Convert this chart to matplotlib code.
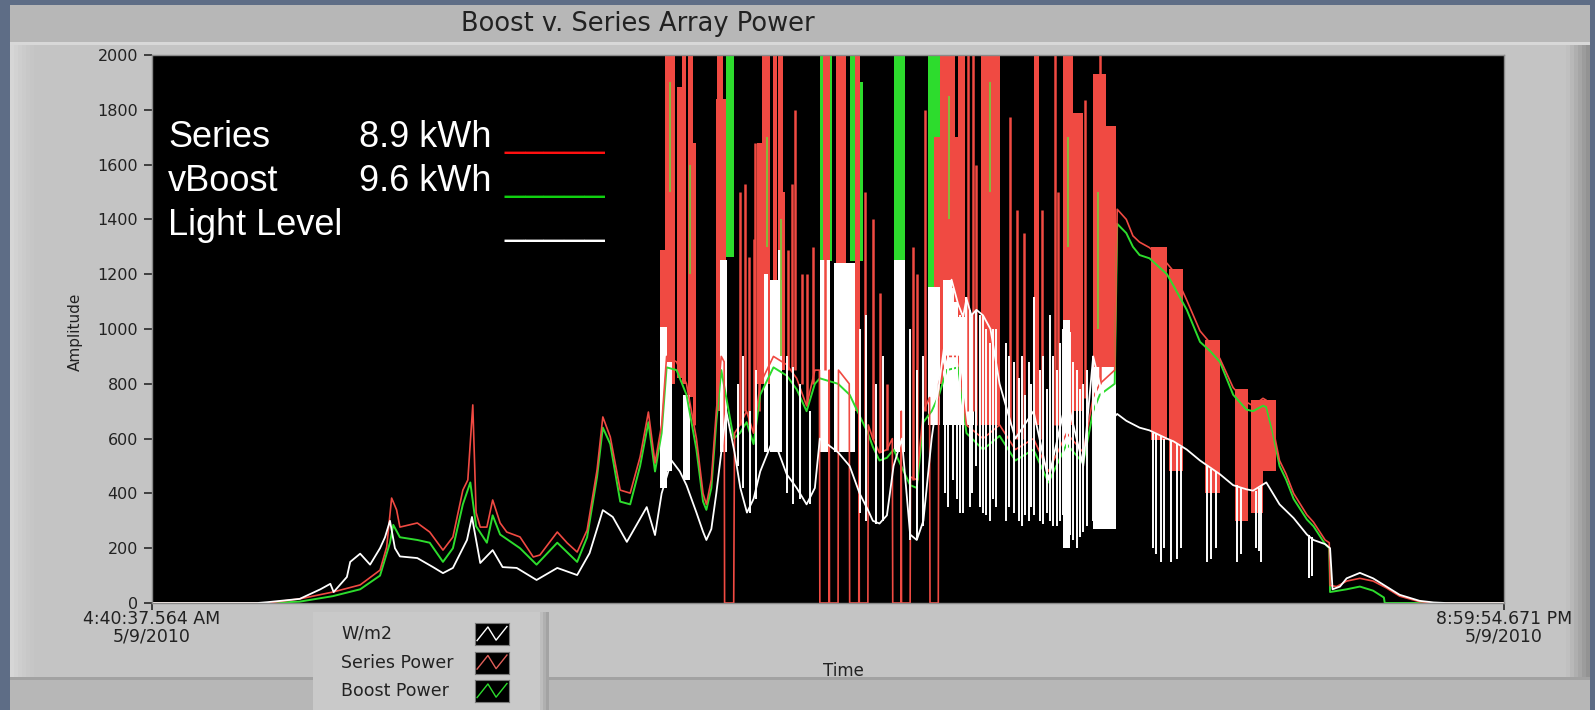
import numpy as np
import matplotlib.pyplot as plt
from matplotlib.patches import Rectangle

# ---- data (time in hours of day, values in amplitude units) ----
light_level = [(4.68, 0), (5.95, 0), (6.07, 3), (6.46, 15), (6.71, 50), (6.83, 70), (6.87, 40), (7.03, 95),
               (7.07, 150), (7.19, 180), (7.31, 140), (7.43, 200), (7.49, 240), (7.55, 300), (7.61, 200),
               (7.67, 170), (7.88, 164), (8.07, 131), (8.19, 109), (8.31, 128), (8.48, 230), (8.54, 314),
               (8.64, 146), (8.79, 193), (8.91, 131), (9.08, 128), (9.32, 84), (9.57, 128), (9.81, 102),
               (9.96, 182), (10.12, 339), (10.24, 314), (10.41, 223), (10.65, 350), (10.75, 248), (10.83, 400),
               (10.95, 520), (11.05, 480), (11.13, 430), (11.25, 330), (11.33, 260), (11.37, 230), (11.43, 270),
               (11.49, 400), (11.55, 550), (11.61, 700), (11.71, 550), (11.78, 420), (11.86, 330), (11.94, 380),
               (12.02, 480), (12.18, 600), (12.34, 470), (12.46, 420), (12.58, 360), (12.68, 420), (12.74, 600),
               (12.96, 550), (13.10, 500), (13.22, 400), (13.32, 340), (13.38, 300), (13.46, 290), (13.55, 320),
               (13.63, 500), (13.73, 600), (13.83, 250), (13.91, 230), (13.99, 300), (14.09, 600), (14.18, 800),
               (14.27, 1000), (14.33, 1180), (14.41, 1090), (14.47, 1045), (14.51, 1110), (14.57, 1050),
               (14.63, 1070), (14.71, 1050), (14.80, 1000), (14.91, 800), (15.10, 600), (15.32, 700),
               (15.50, 450), (15.72, 750), (15.92, 500), (16.04, 900), (16.12, 800), (16.20, 650), (16.33, 690),
               (16.44, 665), (16.60, 640), (16.72, 630), (16.93, 600), (17.01, 590), (17.17, 560), (17.33, 520),
               (17.57, 470), (17.73, 430), (17.89, 415), (17.97, 410), (18.13, 440), (18.21, 400), (18.29, 360),
               (18.46, 310), (18.62, 250), (18.70, 230), (18.84, 215), (18.90, 200), (18.93, 50), (19.02, 60),
               (19.10, 90), (19.26, 110), (19.42, 90), (19.58, 60), (19.74, 30), (19.98, 8), (20.15, 2),
               (20.30, 0), (21.0, 0)]

series_power = [(4.68, 0), (6.07, 0), (6.46, 15), (6.86, 40), (7.19, 66), (7.43, 120), (7.51, 204), (7.57, 383),
                (7.63, 340), (7.67, 277), (7.88, 292), (8.03, 259), (8.19, 193), (8.31, 241), (8.43, 412),
                (8.49, 449), (8.55, 723), (8.59, 330), (8.64, 277), (8.72, 277), (8.79, 376), (8.88, 292),
                (8.96, 259), (9.12, 241), (9.28, 168), (9.36, 175), (9.57, 259), (9.69, 219), (9.81, 186),
                (9.93, 266), (10.05, 485), (10.12, 679), (10.21, 606), (10.33, 412), (10.45, 401), (10.57, 533),
                (10.67, 697), (10.75, 511), (10.83, 650), (10.89, 900), (11.01, 880), (11.13, 800), (11.25, 600),
                (11.33, 400), (11.37, 360), (11.43, 450), (11.49, 700), (11.55, 900), (11.585, 880), (11.59, 0),
                (11.70, 0), (11.71, 620), (11.775, 650), (11.855, 700), (11.94, 620), (12.02, 800), (12.18, 900),
                (12.34, 870), (12.46, 820), (12.58, 720), (12.68, 850), (12.735, 850), (12.74, 0), (12.85, 0),
                (12.853, 850), (12.856, 0), (12.96, 0), (12.965, 850), (13.095, 800), (13.10, 0), (13.21, 0),
                (13.213, 700), (13.216, 0), (13.32, 0), (13.325, 650), (13.38, 600), (13.46, 548), (13.55, 560),
                (13.615, 600), (13.62, 0), (13.72, 0), (13.723, 700), (13.726, 0), (13.83, 0), (13.835, 460),
                (13.91, 450), (13.99, 700), (14.065, 750), (14.07, 0), (14.17, 0), (14.175, 800), (14.27, 900),
                (14.41, 900), (14.51, 650), (14.71, 600), (14.91, 650), (15.10, 560), (15.32, 600), (15.50, 480),
                (15.72, 620), (15.92, 550), (16.04, 750), (16.12, 800), (16.30, 850), (16.33, 1437), (16.44, 1400),
                (16.52, 1340), (16.60, 1317), (16.72, 1297), (16.93, 1240), (17.01, 1211), (17.17, 1105),
                (17.33, 993), (17.45, 950), (17.57, 892), (17.73, 786), (17.89, 733), (17.97, 720), (18.09, 747),
                (18.13, 740), (18.21, 640), (18.29, 520), (18.37, 470), (18.46, 400), (18.62, 322), (18.70, 295),
                (18.84, 230), (18.89, 220), (18.90, 64), (18.98, 60), (19.10, 80), (19.26, 90), (19.42, 80),
                (19.58, 55), (19.74, 25), (19.98, 5), (20.15, 0), (21.0, 0)]

boost_power = [(4.68, 0), (6.07, 0), (6.46, 5), (6.86, 25), (7.19, 50), (7.43, 100), (7.55, 220), (7.59, 285),
               (7.67, 240), (7.88, 230), (8.03, 220), (8.19, 150), (8.31, 200), (8.43, 360), (8.52, 440),
               (8.59, 280), (8.72, 220), (8.79, 320), (8.88, 250), (9.12, 200), (9.32, 140), (9.57, 220),
               (9.81, 150), (9.93, 240), (10.05, 460), (10.12, 640), (10.21, 580), (10.33, 370), (10.45, 360),
               (10.57, 500), (10.67, 660), (10.75, 480), (10.83, 620), (10.89, 860), (11.01, 850), (11.13, 760),
               (11.25, 560), (11.33, 370), (11.37, 340), (11.43, 420), (11.49, 660), (11.55, 850), (11.70, 600),
               (11.775, 620), (11.855, 660), (11.94, 580), (12.02, 760), (12.18, 860), (12.34, 830), (12.46, 780),
               (12.58, 700), (12.68, 800), (12.74, 820), (12.96, 800), (13.10, 760), (13.32, 620), (13.38, 570),
               (13.46, 520), (13.55, 530), (13.63, 560), (13.83, 430), (13.91, 420), (13.99, 660), (14.09, 700),
               (14.18, 760), (14.27, 850), (14.41, 860), (14.51, 620), (14.71, 560), (14.91, 610), (15.10, 520),
               (15.32, 560), (15.50, 440), (15.72, 580), (15.92, 510), (16.04, 700), (16.12, 760), (16.30, 800),
               (16.33, 1384), (16.44, 1350), (16.52, 1300), (16.60, 1270), (16.72, 1258), (16.93, 1200),
               (17.01, 1158), (17.17, 1070), (17.33, 953), (17.45, 920), (17.57, 880), (17.73, 760), (17.89, 706),
               (17.97, 700), (18.09, 720), (18.13, 715), (18.21, 620), (18.29, 500), (18.37, 450), (18.46, 380),
               (18.62, 305), (18.70, 280), (18.84, 215), (18.89, 200), (18.90, 40), (19.10, 50), (19.26, 60),
               (19.42, 45), (19.55, 20), (19.56, 0), (21.0, 0)]

# dense bursts: (start, end, low, high)
series_bursts = [(10.81, 10.87, 800, 1290), (10.87, 10.99, 800, 2050), (11.01, 11.07, 820, 1884),
                 (11.07, 11.13, 800, 2050), (11.15, 11.21, 750, 2050), (11.21, 11.25, 650, 1680),
                 (11.49, 11.61, 700, 1840), (11.50, 11.57, 750, 2050), (11.98, 12.04, 800, 1680),
                 (12.04, 12.14, 800, 2050), (12.18, 12.22, 850, 2050), (12.24, 12.30, 850, 2050),
                 (12.30, 12.32, 850, 1500), (12.78, 12.86, 820, 2050), (12.94, 13.06, 800, 2050),
                 (13.16, 13.22, 700, 2050), (14.12, 14.19, 1154, 1700), (14.19, 14.23, 800, 2050),
                 (14.23, 14.37, 750, 2050), (14.37, 14.41, 800, 1700), (14.41, 14.49, 750, 2050),
                 (14.69, 14.91, 650, 2050), (15.32, 15.38, 650, 2050), (15.68, 15.80, 650, 2050),
                 (15.80, 15.92, 700, 1790), (16.04, 16.20, 700, 1930), (16.20, 16.32, 750, 1740),
                 (16.74, 16.93, 595, 1300), (16.95, 17.13, 480, 1220), (17.39, 17.57, 400, 960),
                 (17.75, 17.91, 300, 780), (17.95, 18.09, 330, 740), (18.09, 18.25, 480, 740)]
boost_bursts = [(11.61, 11.70, 1264, 2050), (12.74, 12.78, 1252, 2050), (12.86, 12.885, 1250, 2050),
                (13.10, 13.16, 1250, 2050), (13.22, 13.26, 1250, 1900), (13.63, 13.77, 1252, 2050),
                (14.05, 14.19, 1700, 2050), (14.05, 14.12, 1154, 1700)]
light_bursts = [(10.81, 10.89, 420, 1008), (10.89, 10.95, 480, 880), (11.09, 11.17, 450, 760),
                (11.53, 11.62, 550, 1252), (12.06, 12.12, 550, 1200), (12.14, 12.28, 550, 1180),
                (12.23, 12.27, 550, 1288), (12.74, 12.86, 550, 1252), (12.91, 13.16, 550, 1240),
                (13.63, 13.77, 550, 1252), (14.05, 14.19, 650, 1154), (14.23, 14.33, 650, 1180),
                (14.33, 14.41, 650, 1100), (14.41, 14.49, 650, 1045), (14.49, 14.53, 650, 1118),
                (14.53, 14.60, 650, 1045), (15.68, 15.76, 200, 1033), (16.04, 16.32, 270, 860)]

# single spikes: (time, low, high)
series_spikes = [(11.22, 650, 1300), (11.78, 650, 1500), (11.84, 700, 1531), (11.88, 650, 1264),
                 (11.94, 620, 1330), (11.96, 650, 1680), (12.00, 700, 1670), (12.36, 850, 1290),
                 (12.40, 850, 1530), (12.44, 850, 1799), (12.52, 800, 1200), (12.58, 720, 1200),
                 (12.66, 800, 1300), (12.80, 850, 2050), (13.28, 650, 1500), (13.385, 600, 1400),
                 (13.465, 550, 1130), (13.545, 560, 800), (13.87, 450, 1300), (13.91, 450, 1200),
                 (14.01, 700, 1799), (14.53, 700, 2050), (14.59, 700, 2050), (14.63, 650, 1600),
                 (15.04, 650, 1775), (15.12, 600, 1434), (15.20, 600, 1349), (15.42, 600, 1434),
                 (15.58, 650, 2050), (15.62, 650, 1500), (15.94, 750, 1836), (16.12, 800, 2050)]
boost_spikes = [(10.93, 1500, 1900), (11.17, 1200, 1600), (12.10, 1300, 1700), (12.27, 900, 1400),
                (14.30, 1400, 1850), (14.80, 1500, 1900), (15.74, 1300, 1700), (16.10, 1000, 1500)]
light_spikes = [(11.755, 500, 800), (11.815, 420, 900), (11.895, 330, 700), (11.975, 380, 850),
                (12.34, 400, 900), (12.42, 360, 860), (12.50, 380, 800), (12.62, 360, 700), (13.22, 330, 1000),
                (13.30, 300, 1050), (13.42, 290, 800), (13.505, 300, 900), (13.83, 230, 1000), (13.91, 230, 850),
                (13.99, 280, 900), (14.25, 400, 1000), (14.29, 350, 1100), (14.35, 450, 1150), (14.39, 380, 1080),
                (14.43, 330, 1050), (14.47, 330, 1060), (14.55, 350, 1070), (14.58, 400, 1050), (14.63, 500, 1070),
                (14.67, 350, 1050), (14.71, 330, 1050), (14.75, 320, 1000), (14.79, 300, 950), (14.83, 380, 1000),
                (14.87, 350, 1000), (14.99, 300, 950), (15.02, 350, 900), (15.08, 330, 880), (15.14, 300, 820),
                (15.18, 280, 900), (15.22, 320, 760), (15.26, 300, 880), (15.29, 350, 800), (15.32, 320, 1118),
                (15.40, 300, 850), (15.44, 290, 900), (15.48, 330, 780), (15.52, 300, 1050), (15.56, 280, 900),
                (15.60, 280, 850), (15.64, 300, 950), (15.68, 320, 1000), (15.72, 260, 900), (15.76, 250, 990),
                (15.80, 230, 880), (15.85, 200, 850), (15.88, 240, 780), (15.92, 260, 800), (15.97, 280, 850),
                (16.04, 300, 900), (16.08, 280, 820), (16.16, 300, 800), (16.24, 320, 760), (16.29, 300, 720),
                (16.76, 200, 620), (16.80, 180, 620), (16.86, 150, 610), (16.90, 200, 600), (16.98, 150, 590),
                (17.05, 160, 580), (17.10, 200, 570), (17.41, 150, 500), (17.46, 160, 490), (17.52, 200, 480),
                (17.78, 150, 430), (17.83, 180, 420), (18.00, 200, 410), (18.04, 190, 420), (18.07, 150, 430),
                (18.64, 90, 250), (18.68, 100, 240)]

t_start, t_end = 4.677, 21.0
x_tick_labels = ['4:40:37.564 AM\n5/9/2010', '8:59:54.671 PM\n5/9/2010']
y_ticks = np.arange(0, 2001, 200)
legend_names = ['W/m2', 'Series Power', 'Boost Power']
note_rows = [('Series', '8.9 kWh'), ('vBoost', '9.6 kWh'), ('Light Level', '')]

RED = '#f04a42'
GREEN = '#2ddc2d'
WHITE = '#ffffff'
INK = '#222222'

W, H = 1595, 710
def fx(px):
    return px / W
def fy(py):
    return 1 - py / H

fig = plt.figure(figsize=(W / 100, H / 100), dpi=100, facecolor='#5e6d86')

def box(x0, y0, x1, y1, c, z=-10):
    fig.patches.append(Rectangle((fx(x0), fy(y1)), fx(x1) - fx(x0), fy(y0) - fy(y1),
                                 transform=fig.transFigure, color=c, lw=0, zorder=z))

# panel look
box(10, 5, 1590, 710, '#b7b7b7')
box(10, 42, 1590, 45, '#d8d8d8')
box(10, 45, 1590, 679, '#c4c4c4')
for i, c in enumerate(['#d6d6d6', '#d2d2d2', '#cecece', '#cbcbcb', '#c8c8c8', '#c6c6c6']):
    box(10 + i * 4, 45, 14 + i * 4, 679, c)
for i, c in enumerate(['#c0c0c0', '#b8b8b8', '#afafaf', '#a6a6a6', '#9c9c9c', '#939393']):
    box(1566 + i * 4, 45, 1570 + i * 4, 679, c)
box(10, 677, 1590, 680, '#a2a2a2')

# plot area
ax = fig.add_axes([fx(152), fy(603), fx(1504) - fx(152), fy(55) - fy(603)])
ax.set_facecolor('black')
ax.set_xlim(t_start, t_end)
ax.set_ylim(0, 2000)

def burst(data, c):
    d = np.array(data, dtype=float)
    ax.bar(d[:, 0], d[:, 3] - d[:, 2], width=d[:, 1] - d[:, 0], bottom=d[:, 2],
           align='edge', color=c, lw=0)

def spikes(data, c, lw=1.6):
    d = np.array(data, dtype=float)
    ax.vlines(d[:, 0], d[:, 1], d[:, 2], color=c, lw=lw)

def trace(data, c, lw=1.4):
    d = np.array(data, dtype=float)
    ax.plot(d[:, 0], d[:, 1], color=c, lw=lw)

burst(series_bursts, RED)
spikes(series_spikes, RED, lw=1.8)
spikes(boost_spikes, '#7fc43a', lw=1.3)
trace(boost_power, GREEN)
trace(series_power, RED, lw=1.2)
burst(boost_bursts, GREEN)
burst(light_bursts, WHITE)
spikes(light_spikes, WHITE, lw=1.4)
trace(light_level, WHITE, lw=1.3)

ax.set_yticks(y_ticks)
ax.set_yticklabels([str(v) for v in y_ticks], fontsize=11.5, color=INK)
ax.set_xticks([t_start, t_end])
ax.set_xticklabels(x_tick_labels, fontsize=12.5, color=INK, linespacing=0.95)
ax.tick_params(axis='y', length=6, width=1.3, color='#333333', pad=4)
ax.tick_params(axis='x', length=5, width=1.3, color='#333333', pad=0)
for s in ax.spines.values():
    s.set_color('#8a8a8a')
    s.set_linewidth(1)

# annotation inside plot
for i, (name, val) in enumerate(note_rows):
    yb = fy(147 + i * 44)
    fig.text(fx(168), yb, name, color='white', fontsize=26, family='Liberation Sans', va='baseline')
    if val:
        fig.text(fx(359), yb, val, color='white', fontsize=26, family='Liberation Sans', va='baseline')
for i, c in enumerate(['#ff1010', '#10d010', '#ffffff']):
    fig.text(fx(505), fy(147 + i * 44), '_____', color=c, fontsize=26,
             family='Liberation Sans', va='baseline')

# titles
fig.text(fx(638), fy(24), 'Boost v. Series Array Power', fontsize=18.5, color=INK,
         ha='center', va='center')
fig.text(fx(75), fy(332), 'Amplitude', fontsize=11, color=INK, rotation=90,
         ha='center', va='center')
fig.text(fx(843), fy(671), 'Time', fontsize=12, color=INK, ha='center', va='center')

# plot legend
box(313, 612, 549, 710, '#c9c9c9', z=-5)
for i, c in enumerate(['#bdbdbd', '#b0b0b0', '#a3a3a3']):
    box(540 + i * 3, 612, 543 + i * 3, 710, c, z=-5)
icon_x = [0.06, 0.38, 0.62, 0.94]
icon_y = [0.2, 0.82, 0.22, 0.84]
for i, (name, c) in enumerate(zip(legend_names, [WHITE, '#e0605a', GREEN])):
    ym = 634 + i * 28.5
    fig.text(fx(341), fy(ym), name, fontsize=12.5, color=INK, va='center')
    sa = fig.add_axes([fx(475), fy(ym + 11), fx(34), 22 / H])
    sa.set_facecolor('black')
    sa.plot(icon_x, icon_y, color=c, lw=1.0)
    sa.set_xlim(0, 1)
    sa.set_ylim(0, 1)
    sa.set_xticks([])
    sa.set_yticks([])
    for s in sa.spines.values():
        s.set_color('#777777')

fig.savefig('out.png', dpi=100, facecolor=fig.get_facecolor())
